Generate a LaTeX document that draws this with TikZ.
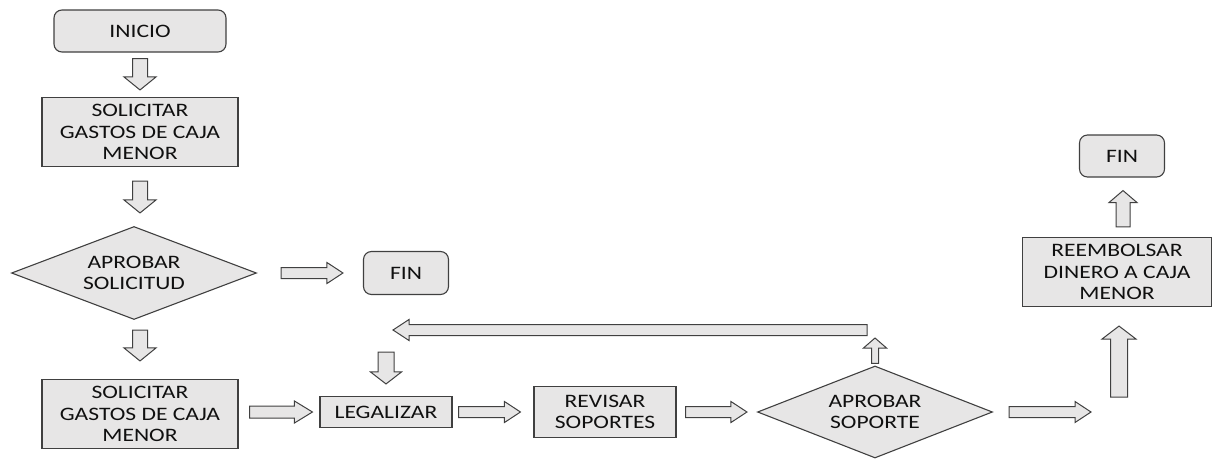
\documentclass[tikz,border=0pt]{standalone}
\usepackage{fontspec}
\setmainfont{Carlito}[FakeStretch=1.24]
\usetikzlibrary{calc,shapes.geometric}

\definecolor{relleno}{HTML}{E7E6E6}
\definecolor{borde}{HTML}{404040}
\definecolor{texto}{HTML}{101010}

\begin{document}
\begin{tikzpicture}[
    x=1pt,
    y=-1pt,
    line join=miter,
    caja/.style={
        draw=borde,
        fill=relleno,
        line width=1.1pt,
        text=texto,
        align=center,
        inner sep=0pt,
        font=\fontsize{19}{21.7}\selectfont
    },
    terminal/.style={
        caja,
        rounded corners=8pt
    },
    decision/.style={
        caja,
        diamond,
        aspect=2.6
    },
    caja flecha/.style={
        draw=borde,
        fill=relleno,
        line width=1pt
    },
    % flecha de bloque: semiancho cuerpo, semiancho punta, largo punta
    flecha/.style n args={3}{
        caja flecha,
        to path={
            let \p1=(\tikztostart), \p2=(\tikztotarget),
                \n1={atan2(\y2-\y1,\x2-\x1)},
                \n2={veclen(\x2-\x1,\y2-\y1)}
            in ($(\p1)+(\n1+90:#1)$)
            -- ($(\p1)+(\n1:\n2-#3)+(\n1+90:#1)$)
            -- ($(\p1)+(\n1:\n2-#3)+(\n1+90:#2)$)
            -- (\p2)
            -- ($(\p1)+(\n1:\n2-#3)+(\n1-90:#2)$)
            -- ($(\p1)+(\n1:\n2-#3)+(\n1-90:#1)$)
            -- ($(\p1)+(\n1-90:#1)$)
            -- cycle
        }
    },
    flechaV/.style={flecha={7.5pt}{16pt}{13pt}},
    flechaH/.style={flecha={5.5pt}{10.5pt}{16pt}}
]

% -------------------------------------------------
% Marco de la figura
% -------------------------------------------------

\useasboundingbox (0,0) rectangle (1212,458);

% -------------------------------------------------
% Columna izquierda
% -------------------------------------------------

\node[terminal, minimum width=172pt, minimum height=42pt]
    (inicio) at (140,31) {INICIO};

\node[caja, minimum width=196pt, minimum height=69pt]
    (solicitar1) at (140,132) {SOLICITAR\\GASTOS DE CAJA\\MENOR};

\node[decision, minimum width=245pt, minimum height=93pt]
    (aprobarS) at (134,273) {APROBAR\\SOLICITUD};

\node[terminal, minimum width=85pt, minimum height=43pt]
    (fin1) at (406,273) {FIN};

\node[caja, minimum width=196pt, minimum height=69pt]
    (solicitar2) at (140,414) {SOLICITAR\\GASTOS DE CAJA\\MENOR};

% -------------------------------------------------
% Fila inferior
% -------------------------------------------------

\node[caja, minimum width=132pt, minimum height=31pt]
    (legalizar) at (386,412) {LEGALIZAR};

\node[caja, minimum width=142pt, minimum height=51pt]
    (revisar) at (605,412) {REVISAR\\SOPORTES};

\node[decision, minimum width=235pt, minimum height=92pt]
    (aprobarP) at (875,412) {APROBAR\\SOPORTE};

% -------------------------------------------------
% Columna derecha
% -------------------------------------------------

\node[caja, minimum width=189pt, minimum height=69pt]
    (reembolsar) at (1117,272) {REEMBOLSAR\\DINERO A CAJA\\MENOR};

\node[terminal, minimum width=85pt, minimum height=42pt]
    (fin2) at (1122,156) {FIN};

% Extremos libres de las flechas
\coordinate (giroD)   at (867,330);
\coordinate (giroI)   at (393,330);
\coordinate (bajaL)   at (386,352);
\coordinate (subeP)   at (875,338);
\coordinate (salidaP) at (1091,412);
\coordinate (baseR)   at (1119,397);

% -------------------------------------------------
% Flechas
% -------------------------------------------------

\draw[flechaV] ([yshift=-6pt]inicio.south) to ([yshift=7pt]solicitar1.north);
\draw[flechaV] ([yshift=-14pt]solicitar1.south) to ([xshift=6pt,yshift=13pt]aprobarS.north);
\draw[flechaH] ([xshift=24pt]aprobarS.east) to ([xshift=-20pt]fin1.west);
\draw[flechaV] ([xshift=6pt,yshift=-10pt]aprobarS.south) to ([yshift=18pt]solicitar2.north);

\draw[flecha={6pt}{11pt}{18pt}]
    ([xshift=11pt,yshift=2pt]solicitar2.east) to ([xshift=-7pt]legalizar.west);
\draw[flechaH] ([xshift=6pt]legalizar.east) to ([xshift=-13pt]revisar.west);
\draw[flechaH] ([xshift=9pt]revisar.east) to ([xshift=-10pt]aprobarP.west);

% Retorno hacia legalizar
\draw[flecha={3.5pt}{11.5pt}{10pt}] ([yshift=2pt]aprobarP.north) to (subeP);
\draw[flechaH] (giroD) to (giroI);
\draw[flecha={8pt}{15.5pt}{12pt}] (bajaL) to ([yshift=12pt]legalizar.north);

% Salida hacia el reembolso
\draw[flechaH] ([xshift=16pt]aprobarP.east) to (salidaP);
\draw[flecha={8.5pt}{17pt}{13pt}] (baseR) to ([xshift=2pt,yshift=-19pt]reembolsar.south);
\draw[flecha={7pt}{14pt}{12pt}]
    ([xshift=6pt,yshift=10pt]reembolsar.north) to ([xshift=1pt,yshift=-13pt]fin2.south);

\end{tikzpicture}
\end{document}
